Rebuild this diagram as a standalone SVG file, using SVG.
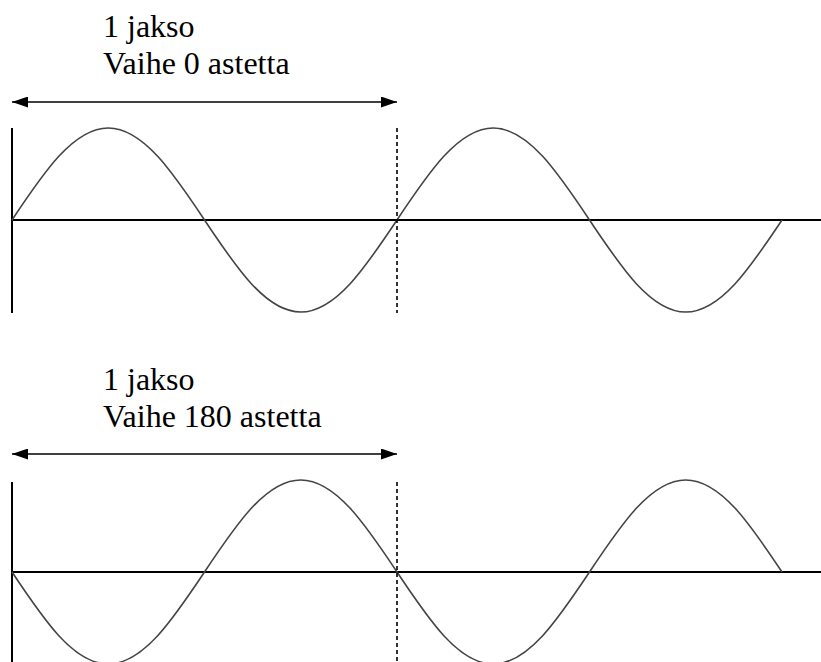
<svg xmlns="http://www.w3.org/2000/svg" width="821" height="662" viewBox="0 0 821 662">
<style>
text{font-family:'Liberation Serif','Times New Roman','DejaVu Serif',serif;font-size:32px;fill:#000}
.axis{stroke:#000;stroke-width:2;fill:none}
.arr{stroke:#000;stroke-width:1.6;fill:none}
.dash{stroke:#000;stroke-width:1.6;stroke-dasharray:4 3;fill:none}
.wave{stroke:#444;stroke-width:1.6;fill:none}
</style>
<defs>
<marker id="ah" viewBox="0 0 16 11" refX="16" refY="5.5" markerWidth="16" markerHeight="11" markerUnits="userSpaceOnUse" orient="auto-start-reverse">
<path d="M0,0 L16,5.5 L0,11 Z" fill="#000"/>
</marker>
</defs>
<rect width="821" height="662" fill="#fff"/>
<g id="top-plot">
<text x="103" y="37">1 jakso</text>
<text x="103" y="74">Vaihe 0 astetta</text>
<line class="axis" x1="12" y1="128" x2="12" y2="313"/>
<line class="axis" x1="12" y1="220" x2="821" y2="220"/>
<path class="wave" d="M12,220 C43.39,172.87 73.41,128 108.25,128 C143.09,128 173.11,172.87 204.5,220 C235.89,267.13 265.91,312 300.75,312 C335.59,312 365.61,267.13 397,220 C428.39,172.87 458.41,128 493.25,128 C528.09,128 558.11,172.87 589.5,220 C620.89,267.13 650.91,312 685.75,312 C720.59,312 750.61,267.13 782,220"/>
</g>
<g id="bottom-plot">
<text x="103" y="390">1 jakso</text>
<text x="103" y="427">Vaihe 180 astetta</text>
<line class="axis" x1="12" y1="482" x2="12" y2="662"/>
<line class="axis" x1="12" y1="572" x2="821" y2="572"/>
<path class="wave" d="M12,572 C43.39,619.13 73.41,664 108.25,664 C143.09,664 173.11,619.13 204.5,572 C235.89,524.87 265.91,480 300.75,480 C335.59,480 365.61,524.87 397,572 C428.39,619.13 458.41,664 493.25,664 C528.09,664 558.11,619.13 589.5,572 C620.89,524.87 650.91,480 685.75,480 C720.59,480 750.61,524.87 782,572"/>
</g>
<g id="connectors">
<line class="arr" x1="12" y1="102" x2="397" y2="102" marker-start="url(#ah)" marker-end="url(#ah)"/>
<line class="dash" x1="397" y1="128" x2="397" y2="313"/>
<line class="arr" x1="12" y1="454" x2="397" y2="454" marker-start="url(#ah)" marker-end="url(#ah)"/>
<line class="dash" x1="397" y1="482" x2="397" y2="662"/>
</g>
</svg>
